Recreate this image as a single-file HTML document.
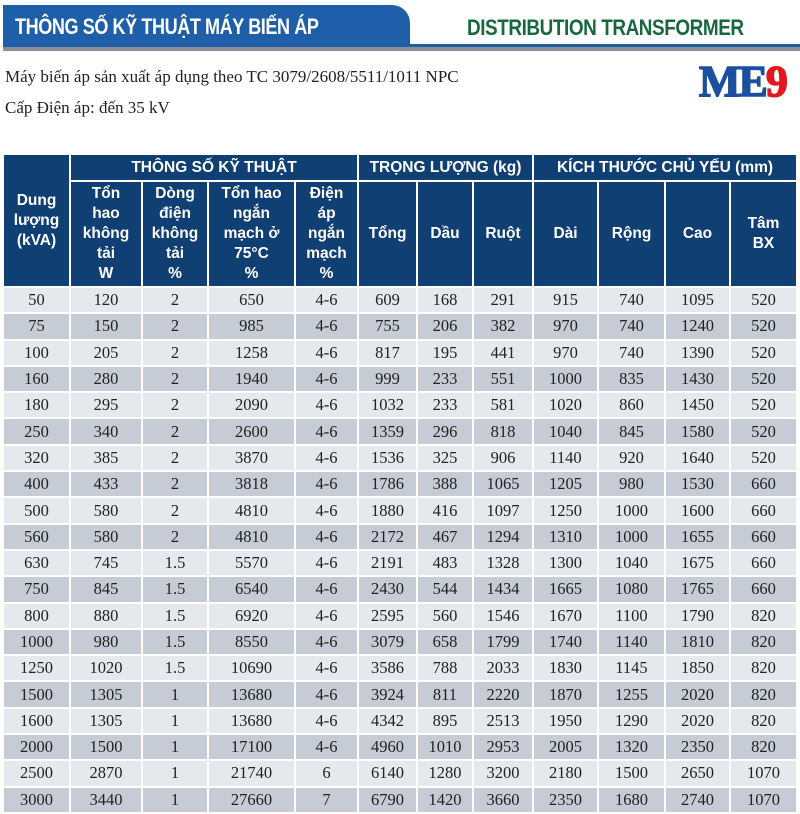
<!DOCTYPE html>
<html><head><meta charset="utf-8">
<style>
body{margin:0;width:800px;height:814px;background:#fff;position:relative;overflow:hidden;font-family:"Liberation Sans",sans-serif}
.tab{position:absolute;left:3px;top:5px;width:407px;height:42px;background:#1f5ea8;border-top-right-radius:18px}
.tab span{position:absolute;left:12px;top:9px;color:#fff;font-weight:bold;font-size:22px;letter-spacing:-0.5px;transform:scaleX(0.82);transform-origin:left top;white-space:nowrap}
.line{position:absolute;left:3px;top:44px;width:797px;height:3px;background:#1f5ea8}
.shadow{position:absolute;left:3px;top:47px;width:797px;height:4px;background:#8a8f96}
.dt{position:absolute;left:467px;top:15px;color:#17683f;font-weight:bold;font-size:22px;letter-spacing:-0.5px;transform:scaleX(0.86);transform-origin:left top;white-space:nowrap}
.t1,.t2{position:absolute;left:5px;font-family:"Liberation Serif",serif;font-size:17px;color:#222}
.t1{top:67px}.t2{top:98px}
.logo{position:absolute;left:699px;top:56px;font-family:"Liberation Serif",serif;font-weight:900;font-size:44px;color:#1b4fa0;letter-spacing:-2px;-webkit-text-stroke:1.5px #1b4fa0}
.logo b{color:#e3161d;-webkit-text-stroke:1.5px #e3161d}
table{position:absolute;left:2px;top:153px;border-collapse:separate;border-spacing:2px;table-layout:fixed}
th{background:#0f3f73;color:#fff;font-size:15.5px;line-height:20px;font-weight:bold;padding:0}
td{text-align:center;font-family:"Liberation Serif",serif;font-size:16.5px;color:#222;height:24.3px;padding:0}
tr.a td{background:#e5e8ec}
tr.b td{background:#c5ccd6}
</style></head><body>
<div class="tab"><span>THÔNG SỐ KỸ THUẬT MÁY BIẾN ÁP</span></div>
<div class="line"></div><div class="shadow"></div>
<div class="dt">DISTRIBUTION TRANSFORMER</div>
<div class="t1">Máy biến áp sản xuất áp dụng theo TC 3079/2608/5511/1011 NPC</div>
<div class="t2">Cấp Điện áp: đến 35 kV</div>
<div class="logo">ME<b>9</b></div>
<table>
<colgroup><col style="width:65px"><col style="width:70px"><col style="width:64px"><col style="width:85px"><col style="width:61px"><col style="width:57px"><col style="width:54px"><col style="width:58px"><col style="width:63px"><col style="width:65px"><col style="width:63px"><col style="width:65px"></colgroup>
<tr style="height:25px"><th rowspan="2">Dung<br>lượng<br>(kVA)</th><th colspan="4">THÔNG SỐ KỸ THUẬT</th><th colspan="3">TRỌNG LƯỢNG (kg)</th><th colspan="4">KÍCH THƯỚC CHỦ YẾU (mm)</th></tr>
<tr style="height:104px"><th>Tổn<br>hao<br>không<br>tải<br>W</th><th>Dòng<br>điện<br>không<br>tải<br>%</th><th>Tổn hao<br>ngắn<br>mạch ở<br>75°C<br>%</th><th>Điện<br>áp<br>ngắn<br>mạch<br>%</th><th>Tổng</th><th>Dầu</th><th>Ruột</th><th>Dài</th><th>Rộng</th><th>Cao</th><th>Tâm<br>BX</th></tr>
<tr class="a"><td>50</td><td>120</td><td>2</td><td>650</td><td>4-6</td><td>609</td><td>168</td><td>291</td><td>915</td><td>740</td><td>1095</td><td>520</td></tr>
<tr class="b"><td>75</td><td>150</td><td>2</td><td>985</td><td>4-6</td><td>755</td><td>206</td><td>382</td><td>970</td><td>740</td><td>1240</td><td>520</td></tr>
<tr class="a"><td>100</td><td>205</td><td>2</td><td>1258</td><td>4-6</td><td>817</td><td>195</td><td>441</td><td>970</td><td>740</td><td>1390</td><td>520</td></tr>
<tr class="b"><td>160</td><td>280</td><td>2</td><td>1940</td><td>4-6</td><td>999</td><td>233</td><td>551</td><td>1000</td><td>835</td><td>1430</td><td>520</td></tr>
<tr class="a"><td>180</td><td>295</td><td>2</td><td>2090</td><td>4-6</td><td>1032</td><td>233</td><td>581</td><td>1020</td><td>860</td><td>1450</td><td>520</td></tr>
<tr class="b"><td>250</td><td>340</td><td>2</td><td>2600</td><td>4-6</td><td>1359</td><td>296</td><td>818</td><td>1040</td><td>845</td><td>1580</td><td>520</td></tr>
<tr class="a"><td>320</td><td>385</td><td>2</td><td>3870</td><td>4-6</td><td>1536</td><td>325</td><td>906</td><td>1140</td><td>920</td><td>1640</td><td>520</td></tr>
<tr class="b"><td>400</td><td>433</td><td>2</td><td>3818</td><td>4-6</td><td>1786</td><td>388</td><td>1065</td><td>1205</td><td>980</td><td>1530</td><td>660</td></tr>
<tr class="a"><td>500</td><td>580</td><td>2</td><td>4810</td><td>4-6</td><td>1880</td><td>416</td><td>1097</td><td>1250</td><td>1000</td><td>1600</td><td>660</td></tr>
<tr class="b"><td>560</td><td>580</td><td>2</td><td>4810</td><td>4-6</td><td>2172</td><td>467</td><td>1294</td><td>1310</td><td>1000</td><td>1655</td><td>660</td></tr>
<tr class="a"><td>630</td><td>745</td><td>1.5</td><td>5570</td><td>4-6</td><td>2191</td><td>483</td><td>1328</td><td>1300</td><td>1040</td><td>1675</td><td>660</td></tr>
<tr class="b"><td>750</td><td>845</td><td>1.5</td><td>6540</td><td>4-6</td><td>2430</td><td>544</td><td>1434</td><td>1665</td><td>1080</td><td>1765</td><td>660</td></tr>
<tr class="a"><td>800</td><td>880</td><td>1.5</td><td>6920</td><td>4-6</td><td>2595</td><td>560</td><td>1546</td><td>1670</td><td>1100</td><td>1790</td><td>820</td></tr>
<tr class="b"><td>1000</td><td>980</td><td>1.5</td><td>8550</td><td>4-6</td><td>3079</td><td>658</td><td>1799</td><td>1740</td><td>1140</td><td>1810</td><td>820</td></tr>
<tr class="a"><td>1250</td><td>1020</td><td>1.5</td><td>10690</td><td>4-6</td><td>3586</td><td>788</td><td>2033</td><td>1830</td><td>1145</td><td>1850</td><td>820</td></tr>
<tr class="b"><td>1500</td><td>1305</td><td>1</td><td>13680</td><td>4-6</td><td>3924</td><td>811</td><td>2220</td><td>1870</td><td>1255</td><td>2020</td><td>820</td></tr>
<tr class="a"><td>1600</td><td>1305</td><td>1</td><td>13680</td><td>4-6</td><td>4342</td><td>895</td><td>2513</td><td>1950</td><td>1290</td><td>2020</td><td>820</td></tr>
<tr class="b"><td>2000</td><td>1500</td><td>1</td><td>17100</td><td>4-6</td><td>4960</td><td>1010</td><td>2953</td><td>2005</td><td>1320</td><td>2350</td><td>820</td></tr>
<tr class="a"><td>2500</td><td>2870</td><td>1</td><td>21740</td><td>6</td><td>6140</td><td>1280</td><td>3200</td><td>2180</td><td>1500</td><td>2650</td><td>1070</td></tr>
<tr class="b"><td>3000</td><td>3440</td><td>1</td><td>27660</td><td>7</td><td>6790</td><td>1420</td><td>3660</td><td>2350</td><td>1680</td><td>2740</td><td>1070</td></tr>
</table>
</body></html>
